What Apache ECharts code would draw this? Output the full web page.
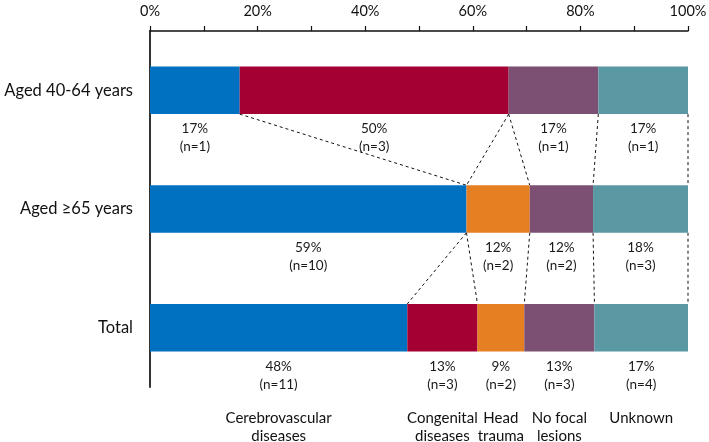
<!DOCTYPE html>
<html>
<head>
<meta charset="utf-8">
<script src="https://cdn.jsdelivr.net/npm/echarts@6/dist/echarts.min.js"></script>
<style>html,body{margin:0;padding:0;background:#fff}#c{width:709px;height:442px}</style>
</head>
<body>
<div id="c"></div>
<script>
var groups = ['Aged 40-64 years', 'Aged \u226565 years', 'Total'];
var categoryNames = ['Cerebrovascular\ndiseases', 'Congenital\ndiseases', 'Head\ntrauma', 'No focal\nlesions', 'Unknown'];
var cerebrovascular = [1, 10, 11];
var congenital = [3, 0, 3];
var headTrauma = [0, 2, 2];
var noFocal = [1, 2, 3];
var unknown = [1, 3, 4];
var colors = ['#0070C0', '#A50034', '#E67E22', '#7B5073', '#5A98A3'];
var xTicks = [0, 20, 40, 60, 80, 100];

var counts = [cerebrovascular, congenital, headTrauma, noFocal, unknown];
var totals = groups.map(function (g, r) {
  return counts.reduce(function (s, c) { return s + c[r]; }, 0);
});
var pct = counts.map(function (c) {
  return c.map(function (v, r) { return v / totals[r] * 100; });
});
var FONT = 'Lato';
var BAR = 0.4;

var series = pct.map(function (vals, k) {
  return {
    type: 'bar',
    stack: 'all',
    barWidth: (BAR * 100) + '%',
    itemStyle: { color: colors[k] },
    data: vals,
    label: {
      show: true,
      position: 'bottom',
      distance: 6,
      fontFamily: FONT,
      fontSize: 13.5,
      lineHeight: 18,
      color: '#1a1a1a',
      formatter: function (p) {
        var r = p.dataIndex;
        var n = counts[k][r];
        if (!n) return '';
        var s = '{v|' + Math.round(p.value) + '%}\n{v|(n=' + n + ')}';
        if (r === groups.length - 1) {
          var parts = categoryNames[k].split('\n');
          s += '\n{sp| }';
          parts.forEach(function (t) { s += '\n{c|' + t + '}'; });
        }
        return s;
      },
      rich: {
        v: { fontFamily: FONT, fontSize: 13.5, lineHeight: 18, color: '#1a1a1a' },
        sp: { fontSize: 6, lineHeight: 16 },
        c: { fontFamily: FONT, fontSize: 15, lineHeight: 18, color: '#111' }
      }
    }
  };
});

// connector lines between cumulative boundaries of consecutive rows
var cum = groups.map(function (g, r) {
  var s = 0;
  return pct.map(function (vals) { s += vals[r]; return s; });
});
var links = [];
for (var r = 0; r < groups.length - 1; r++) {
  for (var k = 0; k < pct.length; k++) {
    links.push([cum[r][k], r, cum[r + 1][k], r + 1]);
  }
}
series.push({
  type: 'custom',
  clip: false,
  silent: true,
  encode: { x: [0, 2], y: [1, 3] },
  data: links,
  renderItem: function (params, api) {
    var p1 = api.coord([api.value(0), api.value(1)]);
    var p2 = api.coord([api.value(2), api.value(3)]);
    var band = Math.abs(api.coord([0, 1])[1] - api.coord([0, 0])[1]);
    var half = band * BAR / 2;
    var dir = p2[1] > p1[1] ? 1 : -1;
    return {
      type: 'line',
      shape: { x1: p1[0], y1: p1[1] + dir * half, x2: p2[0], y2: p2[1] - dir * half },
      style: { stroke: '#111', lineWidth: 1, lineDash: [3, 3] }
    };
  }
});

var chart = echarts.init(document.getElementById('c'));
chart.setOption({
  animation: false,
  grid: { left: 150, right: 21, top: 31, bottom: 55, containLabel: false, outerBoundsMode: 'none' },
  xAxis: {
    type: 'value',
    position: 'top',
    min: 0, max: 100, interval: 10,
    axisLine: { show: true, lineStyle: { color: '#111', width: 1.5 } },
    axisTick: { show: true, inside: false, length: 5, lineStyle: { color: '#111', width: 1.2 } },
    splitLine: { show: false },
    axisLabel: {
      margin: 12,
      fontFamily: FONT, fontSize: 14.5, color: '#111',
      formatter: function (v) { return xTicks.indexOf(v) >= 0 ? v + '%' : ''; }
    }
  },
  yAxis: {
    type: 'category',
    inverse: true,
    data: groups,
    axisLine: { show: true, lineStyle: { color: '#333', width: 2 } },
    axisTick: { show: false },
    axisLabel: { margin: 17, fontFamily: FONT, fontSize: 16.5, color: '#111' }
  },
  series: series
});
</script>
</body>
</html>
